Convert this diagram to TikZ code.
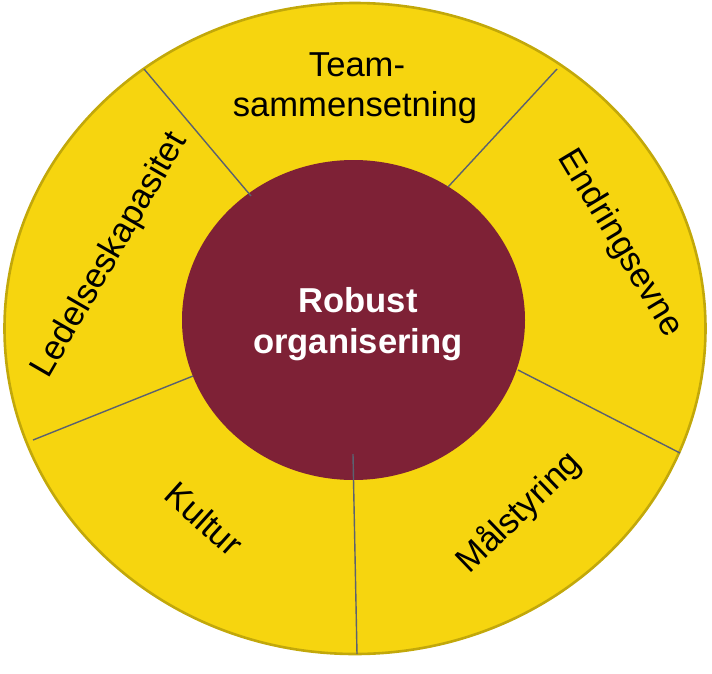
\documentclass[tikz,border=0pt]{standalone}
\usepackage{fontspec}
\setmainfont{Liberation Sans}
\usetikzlibrary{shapes.geometric}
\definecolor{ringfill}{HTML}{F6D50F}
\definecolor{ringedge}{HTML}{C2A80A}
\definecolor{coreclr}{HTML}{7E2136}
\definecolor{divclr}{HTML}{5B6170}
\tikzset{
  ring/.style={ellipse, fill=ringfill, draw=ringedge, line width=2.6pt, inner sep=0pt},
  core/.style={ellipse, fill=coreclr, draw=none, inner sep=0pt},
  divider/.style={draw=divclr, line width=1.4pt},
  seglabel/.style={anchor=base, inner sep=0pt, text=black, font=\fontsize{34.6}{41.5}\selectfont},
  corelabel/.style={anchor=base, inner sep=0pt, text=white, font=\fontsize{34.6}{41.5}\selectfont\bfseries}
}
\begin{document}
\begin{tikzpicture}[x=1pt, y=-1pt]
\useasboundingbox (0,0) rectangle (712,673);
\node[ring, minimum width=701pt, minimum height=651pt] (outer) at (355,328.5) {};
\node[core, minimum width=343pt, minimum height=320pt] (inner) at (353.5,320) {};
% divider end points
\coordinate (ulo) at (144,69);   \coordinate (uli) at (251,196);
\coordinate (uro) at (557,69);   \coordinate (uri) at (448,187);
\coordinate (lo)  at (33,440);   \coordinate (li)  at (193,376);
\coordinate (ro)  at (680,453);  \coordinate (ri)  at (518,370);
\coordinate (bo)  at (357,654);  \coordinate (bi)  at (353,454);
\draw[divider] (ulo) -- (uli);
\draw[divider] (uro) -- (uri);
\draw[divider] (lo) -- (li);
\draw[divider] (ro) -- (ri);
\draw[divider] (bo) -- (bi);
% labels
\node[seglabel] (team1) at (357,76) {Team-};
\node[seglabel] (team2) at (355,116) {sammensetning};
\node[seglabel, rotate=60] (leder) at (118,260) {Ledelseskapasitet};
\node[seglabel, rotate=-59] (endr) at (612,248) {Endringsevne};
\node[seglabel, rotate=-42] (kult) at (196,528) {Kultur};
\node[seglabel, rotate=44] (maal) at (526,520) {Målstyring};
\node[corelabel] (rob1) at (358,312) {Robust};
\node[corelabel] (rob2) at (358,353) {organisering};
\end{tikzpicture}
\end{document}
